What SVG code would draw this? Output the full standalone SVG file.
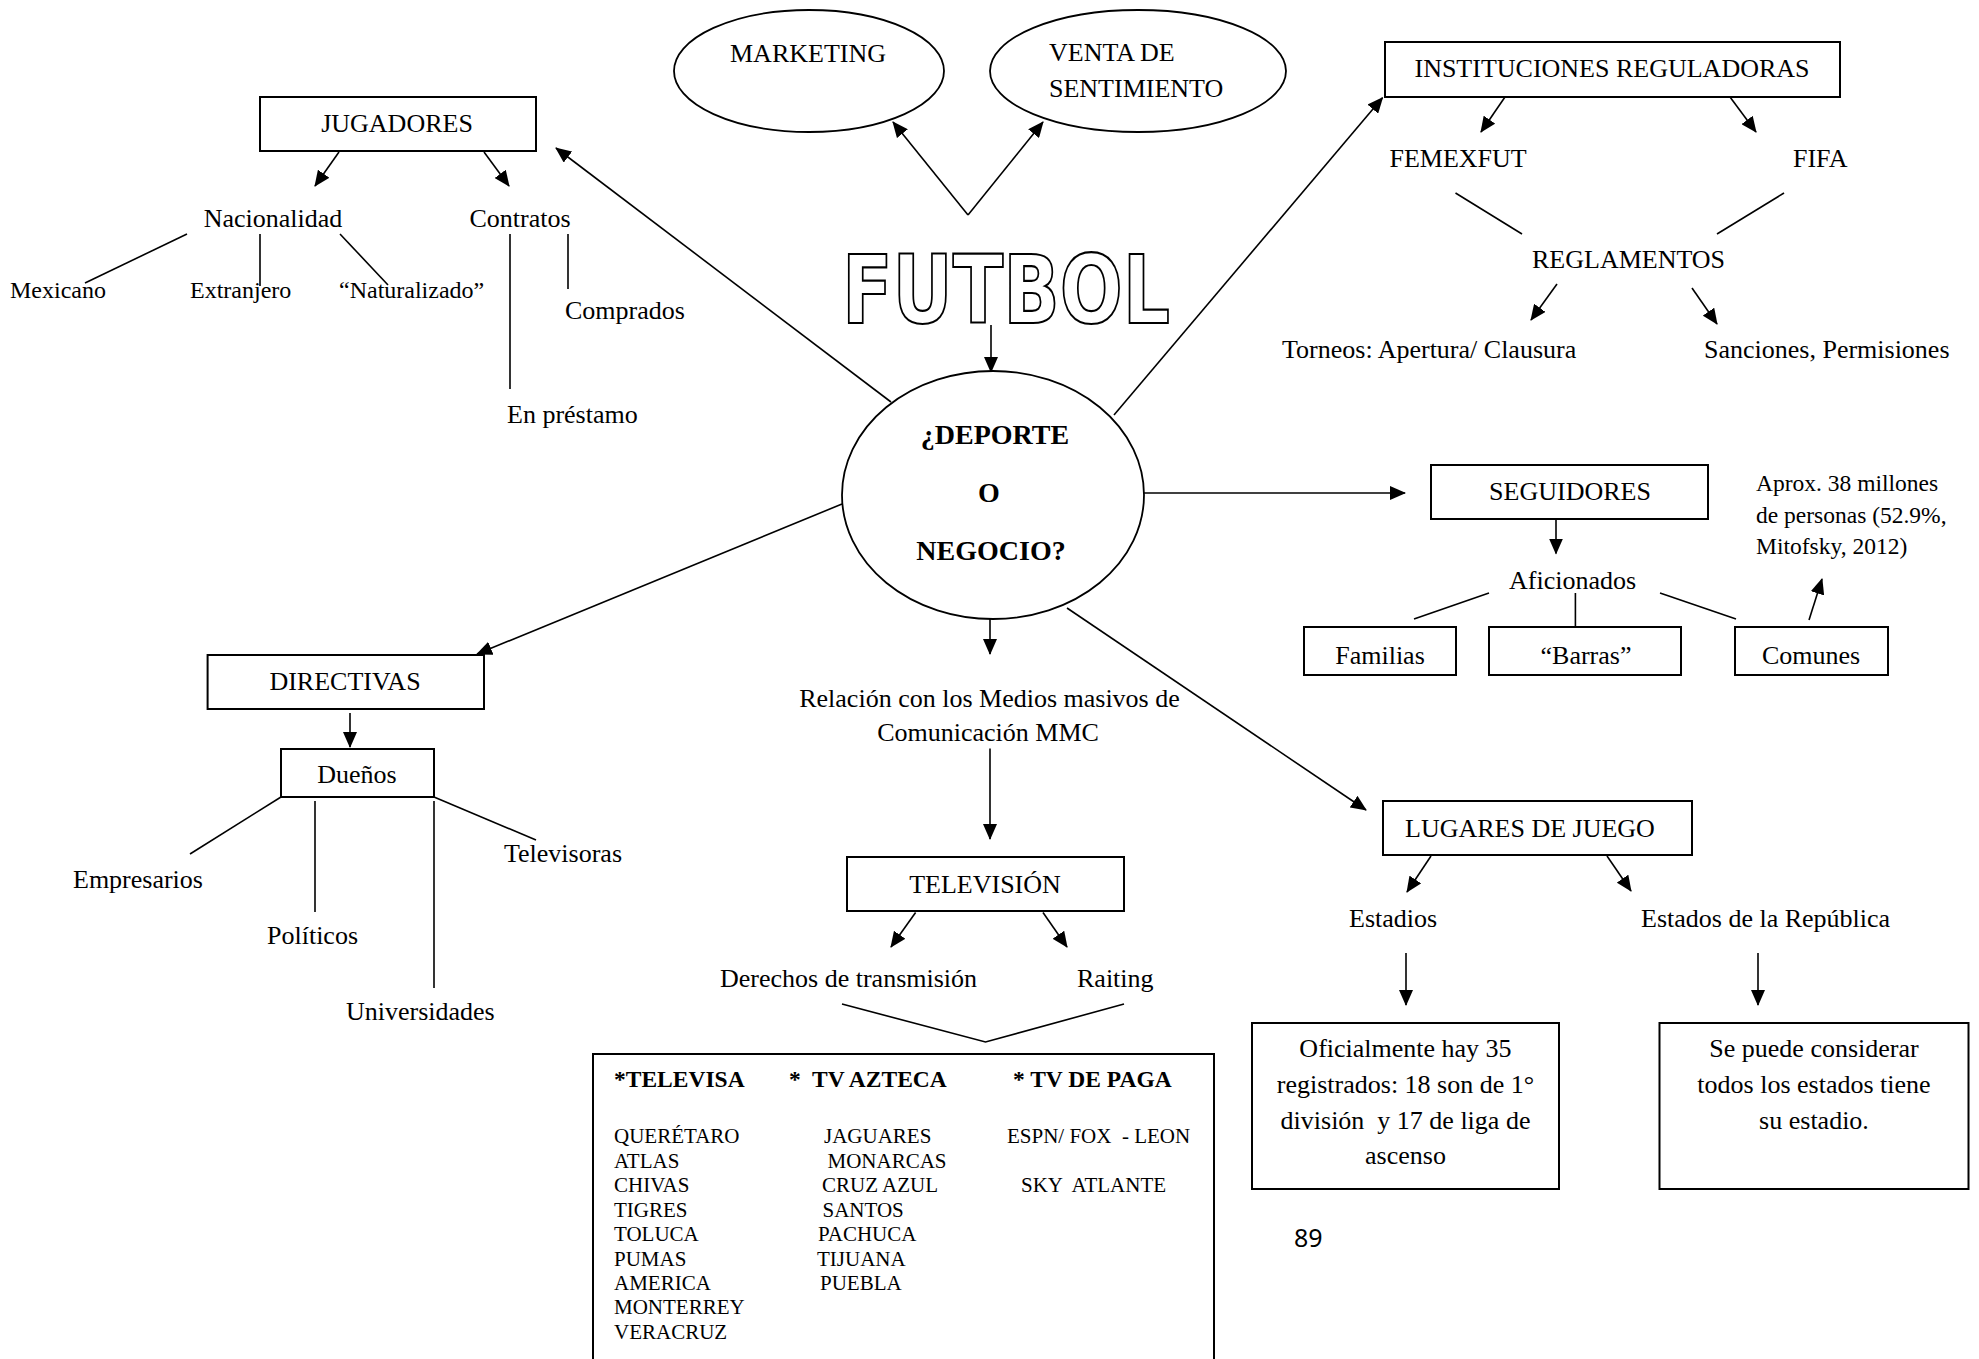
<svg xmlns="http://www.w3.org/2000/svg" width="1979" height="1359" viewBox="0 0 1979 1359">
<defs>
<style>
.t{font-family:"Liberation Serif","Times New Roman",serif;font-size:26px;fill:#000}
.m{text-anchor:middle}
.s24{font-size:24px}
.b{font-weight:bold;font-size:28px}
.hb{font-weight:bold;font-size:23.5px;white-space:pre}
.li{font-size:21px;white-space:pre}
.ap{font-size:23.5px}
.pre{white-space:pre}
.box{fill:#fff;stroke:#000;stroke-width:2}
.ell{fill:#fff;stroke:#000;stroke-width:1.8}
.ln{stroke:#000;stroke-width:1.6;fill:none}
.ar{marker-end:url(#ah)}
</style>
<marker id="ah" markerUnits="userSpaceOnUse" markerWidth="16" markerHeight="14" refX="15" refY="7" orient="auto"><path d="M0,0 L16,7 L0,14 z" fill="#000"/></marker>
</defs>
<rect width="1979" height="1359" fill="#fff"/>

<g id="connectors">
<line class="ln ar" x1="968" y1="215" x2="893" y2="122"/>
<line class="ln ar" x1="968" y1="215" x2="1043" y2="122"/>
<line class="ln ar" x1="991" y1="325" x2="991" y2="372"/>
<line class="ln ar" x1="891" y1="402" x2="556" y2="148"/>
<line class="ln ar" x1="1114" y1="415" x2="1382.5" y2="97.7"/>
<line class="ln ar" x1="1144" y1="493" x2="1405" y2="493"/>
<line class="ln ar" x1="1067" y1="608" x2="1366" y2="810"/>
<line class="ln ar" x1="842" y1="504" x2="477" y2="654"/>
<line class="ln ar" x1="990" y1="619" x2="990" y2="654"/>
<line class="ln ar" x1="990" y1="748.5" x2="990" y2="839"/>
<line class="ln ar" x1="339" y1="152" x2="315" y2="186"/>
<line class="ln ar" x1="484" y1="152" x2="509" y2="186"/>
<line class="ln" x1="187" y1="234" x2="85" y2="283"/>
<line class="ln" x1="260" y1="234" x2="260" y2="286"/>
<line class="ln" x1="340" y1="234" x2="388" y2="285"/>
<line class="ln" x1="510" y1="234" x2="510" y2="389"/>
<line class="ln" x1="568" y1="234" x2="568" y2="289"/>
<line class="ln ar" x1="1505" y1="97" x2="1481" y2="132"/>
<line class="ln ar" x1="1730" y1="97" x2="1756" y2="132"/>
<line class="ln" x1="1455.5" y1="193" x2="1522" y2="234"/>
<line class="ln" x1="1784" y1="193" x2="1717" y2="234"/>
<line class="ln ar" x1="1557" y1="284" x2="1531" y2="320"/>
<line class="ln ar" x1="1692" y1="288" x2="1717" y2="324"/>
<line class="ln ar" x1="1556" y1="519" x2="1556" y2="553.5"/>
<line class="ln" x1="1489" y1="593" x2="1414" y2="619"/>
<line class="ln" x1="1575.4" y1="593" x2="1575.4" y2="627"/>
<line class="ln" x1="1660" y1="593" x2="1736" y2="619"/>
<line class="ln ar" x1="1809" y1="620" x2="1822" y2="579"/>
<line class="ln ar" x1="1431" y1="856" x2="1407" y2="892"/>
<line class="ln ar" x1="1607" y1="856" x2="1631" y2="891"/>
<line class="ln ar" x1="1406" y1="953" x2="1406" y2="1005"/>
<line class="ln ar" x1="1758" y1="953" x2="1758" y2="1005"/>
<line class="ln ar" x1="350" y1="713" x2="350" y2="747"/>
<line class="ln" x1="281" y1="797" x2="190" y2="854"/>
<line class="ln" x1="315" y1="801" x2="315" y2="912"/>
<line class="ln" x1="434" y1="801" x2="434" y2="988"/>
<line class="ln" x1="434" y1="797" x2="536" y2="840"/>
<line class="ln ar" x1="915.6" y1="912.5" x2="891" y2="947"/>
<line class="ln ar" x1="1043" y1="912.5" x2="1067" y2="947"/>
<polyline class="ln" points="842,1004 985.5,1042 1124,1004"/>
</g>

<g id="marketing">
<ellipse class="ell" cx="809" cy="71" rx="135" ry="61"/>
<text class="t m" x="808" y="62">MARKETING</text>
</g>
<g id="venta">
<ellipse class="ell" cx="1138" cy="71" rx="148" ry="61"/>
<text class="t" x="1049" y="61">VENTA DE</text>
<text class="t" x="1049" y="97">SENTIMIENTO</text>
</g>
<g id="futbol">
<text x="842" y="323" font-family="DejaVu Sans, sans-serif" font-weight="bold" font-size="95" textLength="328" lengthAdjust="spacingAndGlyphs" fill="#fff" stroke="#000" stroke-width="2.2">FUTBOL</text>
</g>
<g id="centro">
<ellipse class="ell" cx="993" cy="495" rx="151" ry="124"/>
<text class="t b m" x="995" y="444">¿DEPORTE</text>
<text class="t b m" x="989" y="502">O</text>
<text class="t b m" x="991" y="560">NEGOCIO?</text>
</g>

<g id="jugadores">
<rect class="box" x="260" y="97" width="276" height="54"/>
<text class="t m" x="397" y="132">JUGADORES</text>
</g>
<g id="nacionalidad"><text class="t m" x="273" y="227">Nacionalidad</text></g>
<g id="contratos"><text class="t m" x="520" y="227">Contratos</text></g>
<g id="mexicano"><text class="t s24" x="10" y="298">Mexicano</text></g>
<g id="extranjero"><text class="t s24" x="190" y="298">Extranjero</text></g>
<g id="naturalizado"><text class="t s24" x="339" y="298">“Naturalizado”</text></g>
<g id="comprados"><text class="t" x="565" y="319">Comprados</text></g>
<g id="prestamo"><text class="t" x="507" y="423">En préstamo</text></g>

<g id="instituciones">
<rect class="box" x="1385" y="42" width="455" height="55"/>
<text class="t m" x="1612" y="77">INSTITUCIONES REGULADORAS</text>
</g>
<g id="femexfut"><text class="t" x="1389.5" y="167">FEMEXFUT</text></g>
<g id="fifa"><text class="t" x="1793" y="167">FIFA</text></g>
<g id="reglamentos"><text class="t" x="1532" y="268">REGLAMENTOS</text></g>
<g id="torneos"><text class="t" x="1282" y="358">Torneos: Apertura/ Clausura</text></g>
<g id="sanciones"><text class="t" x="1704" y="358">Sanciones, Permisiones</text></g>

<g id="seguidores">
<rect class="box" x="1431" y="465" width="277" height="54"/>
<text class="t m" x="1570" y="500">SEGUIDORES</text>
</g>
<g id="aprox">
<text class="t ap" x="1756" y="491">Aprox. 38 millones</text>
<text class="t ap" x="1756" y="523">de personas (52.9%,</text>
<text class="t ap" x="1756" y="554">Mitofsky, 2012)</text>
</g>
<g id="aficionados"><text class="t" x="1509" y="589">Aficionados</text></g>
<g id="familias">
<rect class="box" x="1304" y="627" width="152" height="48"/>
<text class="t m" x="1380" y="663.5">Familias</text>
</g>
<g id="barras">
<rect class="box" x="1489" y="627" width="192" height="48"/>
<text class="t m" x="1586" y="663.5">“Barras”</text>
</g>
<g id="comunes">
<rect class="box" x="1735" y="627" width="153" height="48"/>
<text class="t m" x="1811" y="663.5">Comunes</text>
</g>

<g id="lugares">
<rect class="box" x="1383" y="801" width="309" height="54"/>
<text class="t" x="1405" y="836.5">LUGARES DE JUEGO</text>
</g>
<g id="estadios"><text class="t" x="1349" y="927">Estadios</text></g>
<g id="estados"><text class="t" x="1641" y="927">Estados de la República</text></g>
<g id="oficialmente">
<rect class="box" x="1252" y="1023" width="307" height="166"/>
<text class="t m pre" x="1405.5" y="1057">Oficialmente hay 35</text>
<text class="t m pre" x="1405.5" y="1093">registrados: 18 son de 1°</text>
<text class="t m pre" x="1405.5" y="1129">división  y 17 de liga de</text>
<text class="t m pre" x="1405.5" y="1164">ascenso</text>
</g>
<g id="considerar">
<rect class="box" x="1659.5" y="1023" width="309" height="166"/>
<text class="t m" x="1814" y="1057">Se puede considerar</text>
<text class="t m" x="1814" y="1093">todos los estados tiene</text>
<text class="t m" x="1814" y="1129">su estadio.</text>
</g>
<g id="pagina"><text x="1294" y="1247" font-family="Noto Sans, Open Sans, sans-serif" font-size="25">89</text></g>

<g id="directivas">
<rect class="box" x="207.6" y="655" width="276.4" height="54"/>
<text class="t m" x="345" y="689.5">DIRECTIVAS</text>
</g>
<g id="duenos">
<rect class="box" x="281" y="749" width="153" height="48"/>
<text class="t m" x="357" y="783">Dueños</text>
</g>
<g id="empresarios"><text class="t" x="73" y="888">Empresarios</text></g>
<g id="politicos"><text class="t" x="267" y="944">Políticos</text></g>
<g id="universidades"><text class="t" x="346" y="1020">Universidades</text></g>
<g id="televisoras"><text class="t" x="504" y="862">Televisoras</text></g>

<g id="relacion">
<text class="t m" x="989.5" y="707">Relación con los Medios masivos de</text>
<text class="t m" x="988" y="741">Comunicación MMC</text>
</g>
<g id="television">
<rect class="box" x="847" y="857" width="277" height="54"/>
<text class="t m" x="985" y="892.5">TELEVISIÓN</text>
</g>
<g id="derechos"><text class="t" x="720" y="987">Derechos de transmisión</text></g>
<g id="raiting"><text class="t" x="1077" y="987">Raiting</text></g>

<g id="canales">
<rect class="box" x="593" y="1054" width="621" height="330"/>
<text class="t hb" x="614" y="1087">*TELEVISA</text>
<text class="t hb" x="789" y="1087">*  TV AZTECA</text>
<text class="t hb" x="1013" y="1087">* TV DE PAGA</text>
<text class="t li" x="614" y="1143">QUERÉTARO</text>
<text class="t li" x="614" y="1168">ATLAS</text>
<text class="t li" x="614" y="1192">CHIVAS</text>
<text class="t li" x="614" y="1217">TIGRES</text>
<text class="t li" x="614" y="1241">TOLUCA</text>
<text class="t li" x="614" y="1266">PUMAS</text>
<text class="t li" x="614" y="1290">AMERICA</text>
<text class="t li" x="614" y="1314">MONTERREY</text>
<text class="t li" x="614" y="1339">VERACRUZ</text>
<text class="t li" x="824" y="1143">JAGUARES</text>
<text class="t li" x="827.5" y="1168">MONARCAS</text>
<text class="t li" x="822" y="1192">CRUZ AZUL</text>
<text class="t li" x="822.5" y="1217">SANTOS</text>
<text class="t li" x="818" y="1241">PACHUCA</text>
<text class="t li" x="817" y="1266">TIJUANA</text>
<text class="t li" x="820" y="1290">PUEBLA</text>
<text class="t li" x="1007" y="1143">ESPN/ FOX  - LEON</text>
<text class="t li" x="1021" y="1192">SKY  ATLANTE</text>
</g>
</svg>
